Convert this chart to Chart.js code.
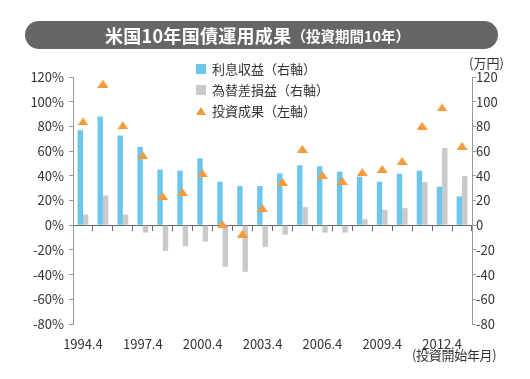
<!DOCTYPE html>
<html><head><meta charset="utf-8">
<script src="https://cdn.jsdelivr.net/npm/chart.js@4"></script>
<style>
body{margin:0;width:530px;height:379px;background:#fff;font-family:"Noto Sans CJK JP",sans-serif;position:relative;overflow:hidden;color:#333}
#c{position:absolute;left:0;top:0}
.title{position:absolute;left:25px;top:21px;width:473px;height:28px;border-radius:14px;background:#666;color:#fff;font-weight:bold;display:flex;align-items:center;justify-content:center;padding-right:8px;box-sizing:border-box;white-space:nowrap}
.title .m{font-size:18px;letter-spacing:0.3px}
.title .s{font-size:14.5px}
.lg{position:absolute;left:196px;font-size:13px;line-height:16px;white-space:nowrap}
.lg i{position:absolute;left:0;top:3px;width:10px;height:10px}
.lg span{position:absolute;left:16px;top:0}
.tri{position:absolute;left:0;top:4px;width:0;height:0;border-left:5.5px solid transparent;border-right:5.5px solid transparent;border-bottom:8px solid #f39a3b}
.note{position:absolute;font-size:13px;white-space:nowrap}
</style></head>
<body>
<canvas id="c" width="530" height="379"></canvas>
<div class="title"><span class="m">米国10年国債運用成果</span><span class="s">（投資期間10年）</span></div>
<div class="lg" style="top:61px"><i style="background:#6cc5ec"></i><span>利息収益（右軸）</span></div>
<div class="lg" style="top:82px"><i style="background:#c9c9c9"></i><span>為替差損益（右軸）</span></div>
<div class="lg" style="top:103px"><b class="tri"></b><span>投資成果（左軸）</span></div>
<div class="note" style="left:469px;top:53px">(万円)</div>
<div class="note" style="left:412px;top:345px;letter-spacing:-0.3px">(投資開始年月)</div>
<script>
const labels = ['1994.4','1995.4','1996.4','1997.4','1998.4','1999.4','2000.4','2001.4','2002.4','2003.4','2004.4','2005.4','2006.4','2007.4','2008.4','2009.4','2010.4','2011.4','2012.4','2013.4'];
const interestIncome = [77, 88, 72.6, 63.4, 45, 44.2, 54.2, 35.2, 31.7, 31.7, 42, 48.5, 47.7, 43.4, 39.3, 35.2, 41.7, 44.2, 31.2, 23.3];
const fxGainLoss = [8.7, 24, 8.7, -6, -20.9, -17, -13.3, -33.6, -37.7, -17.6, -7.6, 14.6, -6, -6, 4.9, 12.5, 13.8, 35, 62.6, 39.8];
const investResult = [84, 114.6, 81, 56.6, 23.6, 26.6, 42, 0.8, -6.8, 13.8, 35, 61.8, 40.6, 35.8, 43, 45.5, 52, 80.5, 95.4, 64.2];
const shownTickLabels = ['1994.4','1997.4','2000.4','2003.4','2006.4','2009.4','2012.4'];

const tri = document.createElement('canvas');
tri.width = 11; tri.height = 8;
const tc = tri.getContext('2d');
tc.fillStyle = '#f39a3b';
tc.beginPath(); tc.moveTo(5.5,0); tc.lineTo(11,8); tc.lineTo(0,8); tc.closePath(); tc.fill();

const font = {family:'"Noto Sans CJK JP", sans-serif', size:13};
new Chart(document.getElementById('c'), {
  type:'bar',
  data:{labels, datasets:[
    {label:'利息収益（右軸）', data:interestIncome, backgroundColor:'#6cc5ec', yAxisID:'y1', xAxisID:'x', order:2, categoryPercentage:0.54, barPercentage:1},
    {label:'為替差損益（右軸）', data:fxGainLoss, backgroundColor:'#c9c9c9', yAxisID:'y1', xAxisID:'x', order:2, categoryPercentage:0.54, barPercentage:1},
    {type:'line', label:'投資成果（左軸）', data:investResult, yAxisID:'y', xAxisID:'x', showLine:false, pointStyle:tri, pointRadius:5, order:0}
  ]},
  options:{
    responsive:false, animation:false,
    layout:{padding:{top:77,left:0,right:0,bottom:0}},
    plugins:{legend:{display:false}, tooltip:{enabled:false}},
    scales:{
      x:{axis:'x', position:{y:0}, offset:true, grid:{offset:true, drawOnChartArea:false, drawTicks:true, tickLength:5, color:'#666'}, border:{color:'#666'}, ticks:{display:false}},
      x2:{axis:'x', type:'category', position:'bottom', offset:true, grid:{display:false}, border:{display:false},
        ticks:{autoSkip:false, maxRotation:0, padding:4, color:'#333', font, callback:(v,i)=> shownTickLabels.includes(labels[i]) ? labels[i] : ''},
        afterFit(s){s.height = 55;}},
      y:{axis:'y', position:'left', min:-80, max:120, ticks:{stepSize:20, padding:5, color:'#333', font, callback:v=>v+'%'},
        grid:{drawOnChartArea:false, tickLength:4, color:'#999'}, border:{color:'#999'}, afterFit(s){s.width = 73;}},
      y1:{axis:'y', position:'right', min:-80, max:120, ticks:{stepSize:20, padding:0, color:'#333', font},
        grid:{drawOnChartArea:false, tickLength:4, color:'#999'}, border:{color:'#999'}, afterFit(s){s.width = 58;}}
    }
  }
});
</script>
</body></html>
